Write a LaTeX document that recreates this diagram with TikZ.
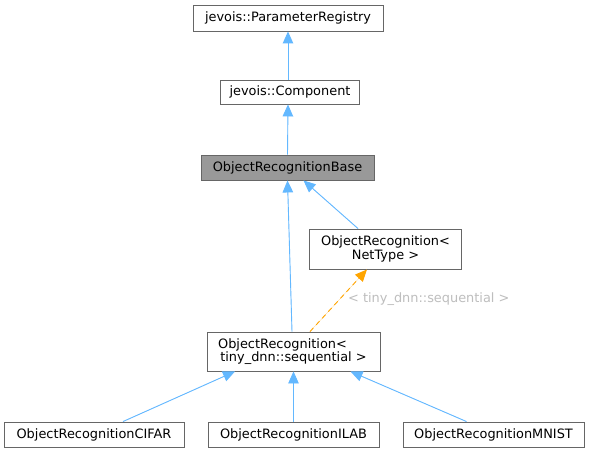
\documentclass[tikz,border=0pt]{standalone}
\usepackage{fontspec}
\setmainfont{DejaVu Sans}
\usepackage{tikz}
\usetikzlibrary{arrows.meta}
\definecolor{inhBlue}{HTML}{63B8FF}
\definecolor{tplOrange}{HTML}{FFA500}
\definecolor{boxEdge}{HTML}{666666}
\definecolor{curFill}{HTML}{999999}
\definecolor{lblGrey}{HTML}{BEBEBE}
\tikzset{
  cls/.style    = {rectangle, draw=boxEdge, line width=0.9pt, fill=white,
                   inner sep=0pt, align=center, text=black,
                   font=\fontsize{12.9}{13.4}\selectfont},
  clscur/.style = {cls, fill=curFill},
  inh/.style    = {draw=inhBlue, line width=0.9pt,
                   -{Triangle[length=12pt, width=10.5pt]}, fill=inhBlue},
  tpl/.style    = {draw=tplOrange, line width=0.9pt, dash pattern=on 5pt off 4pt,
                   -{Triangle[length=12pt, width=10.5pt]}, fill=tplOrange},
  tlab/.style   = {font=\fontsize{12.9}{14}\selectfont, text=lblGrey, inner sep=0pt},
}
\begin{document}
\begin{tikzpicture}[x=1pt, y=-1pt]
  \useasboundingbox[fill=white] (0,0) rectangle (591,452);
  \node[cls, minimum width=190, minimum height=26] (preg) at (288,18) {jevois::ParameterRegistry};
  \node[cls, minimum width=139, minimum height=24] (comp) at (290,92) {jevois::Component};
  \node[clscur, minimum width=173, minimum height=25] (base) at (287.5,167.5) {ObjectRecognitionBase};
  \node[cls, minimum width=152, minimum height=40] (ornet) at (385.5,249)
    {ObjectRecognition\textless\\NetType \textgreater};
  \node[cls, minimum width=173, minimum height=39] (ortiny) at (293.5,351.5)
    {ObjectRecognition\textless\hspace*{22pt}\\tiny\_dnn::sequential \textgreater};
  \foreach \nm/\x/\w in {CIFAR/94/180, ILAB/293.5/171, MNIST/493.5/181}{%
    \node[cls, minimum width=\w, minimum height=25] (or\nm) at (\x,434.5)
      {ObjectRecognition\nm};}

  \draw[inh] ([xshift=-2pt]comp.north) -- ([xshift=0pt]preg.south);
  \draw[inh] (base.north) -- ([xshift=-2pt]comp.south);
  \draw[inh] ([xshift=-1.5pt]ortiny.north) -- (base.south);
  \draw[inh] ([xshift=-27.5pt]ornet.north) -- ([xshift=16pt]base.south);
  \draw[tpl] ([xshift=16.5pt]ortiny.north) -- ([xshift=-18.5pt]ornet.south);
  \node[tlab, anchor=west] (tlabel) at (348,299) {\textless{} tiny\_dnn::sequential \textgreater};
  \draw[inh] ([xshift=29pt]orCIFAR.north) -- ([xshift=-58.5pt]ortiny.south);
  \draw[inh] (orILAB.north) -- (ortiny.south);
  \draw[inh] ([xshift=-27pt]orMNIST.north) -- ([xshift=57pt]ortiny.south);
\end{tikzpicture}
\end{document}
